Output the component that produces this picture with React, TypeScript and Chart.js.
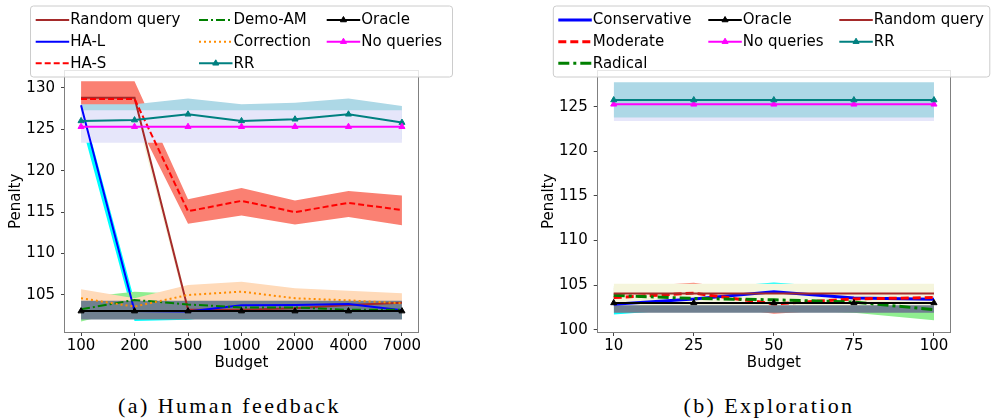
import React, { useEffect, useRef } from 'react';
import { Chart, registerables } from 'chart.js';

Chart.register(...registerables);

const FONT_FAMILY = "'DejaVu Sans', sans-serif";

// ---------------- (a) Human feedback ----------------
const budgetA = ['100', '200', '500', '1000', '2000', '4000', '7000'];

const randomQueryA = [128.8, 128.8, 103.25, 103.2, 103.4, 103.8, 104.05];
const randomQueryAHi = [129.4, 129.4, 103.9, 103.8, 104.0, 104.4, 104.6];
const randomQueryALo = [127.4, 127.4, 102.6, 102.6, 102.8, 103.2, 103.5];

const haLA = [127.9, 103.07, 103.0, 103.75, 103.8, 103.9, 103.15];
const haLAHi = [128.3, 104.3, 104.0, 104.8, 104.9, 105.0, 104.2];
const haLALo = [125.8, 101.85, 102.0, 102.7, 102.7, 102.8, 102.1];

const haSA = [128.65, 128.65, 115.1, 116.35, 115.0, 116.1, 115.25];
const haSAHi = [130.8, 130.8, 116.55, 117.9, 116.4, 117.55, 117.0];
const haSALo = [126.5, 126.5, 113.6, 114.6, 113.5, 114.4, 113.4];

const demoAMA = [103.27, 104.4, 103.85, 103.5, 103.5, 103.2, 103.2];
const demoAMAHi = [104.7, 105.4, 105.1, 104.2, 104.2, 103.9, 103.9];
const demoAMALo = [101.8, 103.4, 102.6, 102.8, 102.8, 102.5, 102.5];

const correctionA = [104.6, 103.6, 105.0, 105.4, 104.6, 104.35, 104.0];
const correctionAHi = [105.7, 104.6, 106.2, 106.6, 105.8, 105.5, 105.2];
const correctionALo = [103.5, 102.6, 103.8, 104.2, 103.4, 103.2, 102.8];

const rrA = [126.0, 126.1, 126.8, 126.0, 126.2, 126.8, 125.8];
const rrAHi = [128.0, 128.0, 128.7, 128.0, 128.2, 128.7, 127.8];
const rrALo = [124.0, 124.2, 124.9, 124.0, 124.2, 124.9, 123.8];

const oracleA = [103.05, 103.05, 103.05, 103.05, 103.05, 103.05, 103.05];
const oracleAHi = [104.3, 104.3, 104.3, 104.3, 104.3, 104.3, 104.3];
const oracleALo = [102.05, 102.05, 102.05, 102.05, 102.05, 102.05, 102.05];

const noQueriesA = [125.3, 125.3, 125.3, 125.3, 125.3, 125.3, 125.3];
const noQueriesAHi = [127.3, 127.3, 127.3, 127.3, 127.3, 127.3, 127.3];
const noQueriesALo = [123.35, 123.35, 123.35, 123.35, 123.35, 123.35, 123.35];

// ---------------- (b) Exploration ----------------
const budgetB = ['10', '25', '50', '75', '100'];

const conservativeB = [102.85, 103.45, 104.25, 103.55, 103.4];
const conservativeBHi = [103.95, 104.55, 105.3, 104.65, 104.5];
const conservativeBLo = [101.7, 102.35, 103.2, 102.45, 102.3];

const moderateB = [103.6, 104.1, 102.9, 103.45, 103.6];
const moderateBHi = [104.7, 105.25, 104.0, 104.55, 104.7];
const moderateBLo = [102.5, 102.95, 101.8, 102.35, 102.5];

const radicalB = [103.85, 103.5, 103.35, 103.1, 102.25];
const radicalBHi = [104.9, 104.6, 104.45, 104.3, 103.45];
const radicalBLo = [102.8, 102.4, 102.25, 101.9, 101.05];

const oracleB = [103.0, 103.0, 103.0, 103.0, 103.0];
const oracleBHi = [104.1, 104.1, 104.1, 104.1, 104.1];
const oracleBLo = [101.9, 101.9, 101.9, 101.9, 101.9];

const noQueriesB = [125.27, 125.27, 125.27, 125.27, 125.27];
const noQueriesBHi = [127.2, 127.2, 127.2, 127.2, 127.2];
const noQueriesBLo = [123.4, 123.4, 123.4, 123.4, 123.4];

const randomQueryB = [104.05, 104.05, 104.05, 104.05, 104.05];
const randomQueryBHi = [105.15, 105.15, 105.15, 105.15, 105.15];
const randomQueryBLo = [102.75, 102.75, 102.75, 102.75, 102.75];

const rrB = [125.75, 125.75, 125.75, 125.75, 125.75];
const rrBHi = [127.75, 127.75, 127.75, 127.75, 127.75];
const rrBLo = [123.8, 123.8, 123.8, 123.8, 123.8];

// ---------------- series definitions ----------------
type Series = {
  label: string;
  y: number[];
  hi: number[];
  lo: number[];
  color: string;
  band: string;
  dash: number[];
  width: number;
  marker: boolean;
};

const seriesA: Series[] = [
  { label: 'Random query', y: randomQueryA, hi: randomQueryAHi, lo: randomQueryALo, color: '#a52a2a', band: '#f5f5dc', dash: [], width: 2, marker: false },
  { label: 'HA-L', y: haLA, hi: haLAHi, lo: haLALo, color: '#0000ff', band: '#00ffff', dash: [], width: 2, marker: false },
  { label: 'HA-S', y: haSA, hi: haSAHi, lo: haSALo, color: '#ff0000', band: '#fa8072', dash: [6, 3], width: 2, marker: false },
  { label: 'Demo-AM', y: demoAMA, hi: demoAMAHi, lo: demoAMALo, color: '#008000', band: '#90ee90', dash: [9, 3, 2, 3], width: 2, marker: false },
  { label: 'Correction', y: correctionA, hi: correctionAHi, lo: correctionALo, color: '#ff8c00', band: '#ffdab9', dash: [2, 3], width: 2, marker: false },
  { label: 'RR', y: rrA, hi: rrAHi, lo: rrALo, color: '#008080', band: '#add8e6', dash: [], width: 2, marker: true },
  { label: 'Oracle', y: oracleA, hi: oracleAHi, lo: oracleALo, color: '#000000', band: '#708090', dash: [], width: 2, marker: true },
  { label: 'No queries', y: noQueriesA, hi: noQueriesAHi, lo: noQueriesALo, color: '#ff00ff', band: '#e6e6fa', dash: [], width: 2, marker: true },
];

const seriesB: Series[] = [
  { label: 'Conservative', y: conservativeB, hi: conservativeBHi, lo: conservativeBLo, color: '#0000ff', band: '#00ffff', dash: [], width: 3, marker: false },
  { label: 'Moderate', y: moderateB, hi: moderateBHi, lo: moderateBLo, color: '#ff0000', band: '#fa8072', dash: [8, 4], width: 3, marker: false },
  { label: 'Radical', y: radicalB, hi: radicalBHi, lo: radicalBLo, color: '#008000', band: '#90ee90', dash: [11, 4, 3, 4], width: 3, marker: false },
  { label: 'Oracle', y: oracleB, hi: oracleBHi, lo: oracleBLo, color: '#000000', band: '#708090', dash: [], width: 2, marker: true },
  { label: 'No queries', y: noQueriesB, hi: noQueriesBHi, lo: noQueriesBLo, color: '#ff00ff', band: '#e6e6fa', dash: [], width: 2, marker: true },
  { label: 'Random query', y: randomQueryB, hi: randomQueryBHi, lo: randomQueryBLo, color: '#a52a2a', band: '#f5f5dc', dash: [], width: 2, marker: false },
  { label: 'RR', y: rrB, hi: rrBHi, lo: rrBLo, color: '#008080', band: '#add8e6', dash: [], width: 2, marker: true },
];

type PlotCfg = {
  categories: string[];
  series: Series[];
  yMin: number;
  yMax: number;
  xMargin: number;
  padRight: number;
  yAxisWidth: number;
  yTitlePad: number;
  legendBox: { x: number; y: number; w: number; h: number };
  legendCols: number[];
  legendRows: number[];
};

const cfgA: PlotCfg = {
  categories: budgetA,
  series: seriesA,
  yMin: 100.53,
  yMax: 132.07,
  xMargin: 0.3,
  padRight: 78,
  yAxisWidth: 65,
  yTitlePad: 7.5,
  legendBox: { x: 30.5, y: 6, w: 422, h: 71 },
  legendCols: [35.7, 199, 326.7],
  legendRows: [20, 41.7, 63.3],
};

const cfgB: PlotCfg = {
  categories: budgetB,
  series: seriesB,
  yMin: 99.74,
  yMax: 129.05,
  xMargin: 0.2,
  padRight: 42,
  yAxisWidth: 101.7,
  yTitlePad: 44,
  legendBox: { x: 57.3, y: 6, w: 436.5, h: 71 },
  legendCols: [62.3, 212.3, 343.3],
  legendRows: [20, 41.7, 63.3],
};

const CANVAS_W = 496;
const CANVAS_H = 380;

function drawTriangle(ctx: CanvasRenderingContext2D, x: number, y: number, r: number, color: string) {
  ctx.beginPath();
  for (let k = 0; k < 3; k++) {
    const a = (k * 2 * Math.PI) / 3;
    const px = x + Math.sin(a) * r;
    const py = y - Math.cos(a) * r;
    if (k === 0) ctx.moveTo(px, py);
    else ctx.lineTo(px, py);
  }
  ctx.closePath();
  ctx.fillStyle = color;
  ctx.fill();
  ctx.strokeStyle = color;
  ctx.lineWidth = 1;
  ctx.setLineDash([]);
  ctx.stroke();
}

function buildConfig(cfg: PlotCfg): any {
  const N = cfg.series.length;
  const datasets: any[] = [];
  cfg.series.forEach((s, i) => {
    const order = N - i;
    datasets.push({
      label: s.label + ' upper',
      data: s.hi.map((v, k) => ({ x: k, y: v })),
      fill: '+1',
      backgroundColor: s.band,
      borderColor: 'rgba(0,0,0,0)',
      borderWidth: 0,
      pointRadius: 0,
      tension: 0,
      order,
    });
    datasets.push({
      label: s.label + ' lower',
      data: s.lo.map((v, k) => ({ x: k, y: v })),
      fill: false,
      borderColor: 'rgba(0,0,0,0)',
      borderWidth: 0,
      pointRadius: 0,
      tension: 0,
      order,
    });
    datasets.push({
      label: s.label,
      data: s.y.map((v, k) => ({ x: k, y: v })),
      fill: false,
      borderColor: s.color,
      borderWidth: s.width,
      borderDash: s.dash,
      pointStyle: 'triangle',
      pointRadius: s.marker ? 3.5 : 0,
      pointBorderWidth: 1,
      pointBackgroundColor: s.color,
      pointBorderColor: s.color,
      tension: 0,
      order,
    });
  });

  const tickFont = { family: FONT_FAMILY, size: 15, lineHeight: 1.2 };

  const framePlugin = {
    id: 'frame',
    afterDatasetsDraw(chart: any) {
      const { ctx, chartArea } = chart;
      const l = Math.round(chartArea.left);
      const t = Math.round(chartArea.top);
      const r = Math.round(chartArea.right);
      const b = Math.round(chartArea.bottom);
      ctx.save();
      ctx.strokeStyle = '#808080';
      ctx.lineWidth = 1;
      ctx.setLineDash([]);
      ctx.strokeRect(l - 0.5, t - 0.5, r - l + 1, b - t + 1);
      ctx.restore();
    },
  };

  const legendPlugin = {
    id: 'mplLegend',
    afterDraw(chart: any) {
      const ctx: CanvasRenderingContext2D = chart.ctx;
      const bx = cfg.legendBox;
      ctx.save();
      const rad = 3;
      ctx.beginPath();
      ctx.moveTo(bx.x + rad, bx.y);
      ctx.lineTo(bx.x + bx.w - rad, bx.y);
      ctx.arcTo(bx.x + bx.w, bx.y, bx.x + bx.w, bx.y + rad, rad);
      ctx.lineTo(bx.x + bx.w, bx.y + bx.h - rad);
      ctx.arcTo(bx.x + bx.w, bx.y + bx.h, bx.x + bx.w - rad, bx.y + bx.h, rad);
      ctx.lineTo(bx.x + rad, bx.y + bx.h);
      ctx.arcTo(bx.x, bx.y + bx.h, bx.x, bx.y + bx.h - rad, rad);
      ctx.lineTo(bx.x, bx.y + rad);
      ctx.arcTo(bx.x, bx.y, bx.x + rad, bx.y, rad);
      ctx.closePath();
      ctx.fillStyle = 'rgba(255,255,255,0.8)';
      ctx.fill();
      ctx.strokeStyle = '#cccccc';
      ctx.lineWidth = 1;
      ctx.stroke();

      const n = cfg.series.length;
      const ncol = 3;
      const rows = Math.floor(n / ncol);
      const large = n % ncol;
      let idx = 0;
      ctx.font = `15px ${FONT_FAMILY}`;
      ctx.textBaseline = 'middle';
      ctx.textAlign = 'left';
      for (let c = 0; c < ncol; c++) {
        const h = c < large ? rows + 1 : rows;
        for (let r = 0; r < h; r++) {
          const s = cfg.series[idx++];
          const hx = cfg.legendCols[c];
          const hy = cfg.legendRows[r];
          ctx.beginPath();
          ctx.strokeStyle = s.color;
          ctx.lineWidth = s.width;
          ctx.setLineDash(s.dash);
          ctx.moveTo(hx, hy);
          ctx.lineTo(hx + 33.5, hy);
          ctx.stroke();
          ctx.setLineDash([]);
          if (s.marker) drawTriangle(ctx, hx + 16.75, hy, 3.5, s.color);
          ctx.fillStyle = '#000';
          ctx.fillText(s.label, hx + 34.5, hy + 0.5);
        }
      }
      ctx.restore();
    },
  };

  return {
    type: 'line',
    data: { datasets },
    plugins: [framePlugin, legendPlugin],
    options: {
      animation: false,
      responsive: false,
      devicePixelRatio: 1,
      events: [],
      layout: { padding: { left: 0, top: 70.6, right: cfg.padRight, bottom: 0 } },
      plugins: {
        legend: { display: false },
        tooltip: { enabled: false },
        title: { display: false },
        filler: { drawTime: 'beforeDatasetsDraw', propagate: false },
      },
      scales: {
        x: {
          type: 'linear',
          min: -cfg.xMargin,
          max: cfg.categories.length - 1 + cfg.xMargin,
          afterFit: (s: any) => {
            s.height = CANVAS_H - 332;
          },
          grid: { display: true, drawOnChartArea: false, drawTicks: true, tickLength: 4, color: '#444' },
          border: { display: false },
          ticks: {
            stepSize: 1,
            includeBounds: false,
            autoSkip: false,
            maxRotation: 0,
            minRotation: 0,
            padding: 1,
            color: '#000',
            font: tickFont,
            callback: (v: any) => {
              const i = Math.round(Number(v));
              return Math.abs(Number(v) - i) < 1e-6 && cfg.categories[i] !== undefined ? cfg.categories[i] : '';
            },
          },
          title: {
            display: true,
            text: 'Budget',
            color: '#000',
            font: tickFont,
            padding: { top: 0, bottom: 8 },
          },
        },
        y: {
          type: 'linear',
          min: cfg.yMin,
          max: cfg.yMax,
          afterFit: (s: any) => {
            s.width = cfg.yAxisWidth;
          },
          grid: { display: true, drawOnChartArea: false, drawTicks: true, tickLength: 4, color: '#444' },
          border: { display: false },
          ticks: {
            stepSize: 5,
            includeBounds: false,
            padding: 6,
            color: '#000',
            font: tickFont,
          },
          title: {
            display: true,
            text: 'Penalty',
            color: '#000',
            font: tickFont,
            padding: { top: cfg.yTitlePad, bottom: 0 },
          },
        },
      },
    },
  };
}

function Plot({ cfg, left }: { cfg: PlotCfg; left: number }) {
  const ref = useRef<HTMLCanvasElement>(null);
  useEffect(() => {
    const chart = new Chart(ref.current as HTMLCanvasElement, buildConfig(cfg));
    return () => chart.destroy();
  }, [cfg]);
  return (
    <canvas
      ref={ref}
      width={CANVAS_W}
      height={CANVAS_H}
      style={{ position: 'absolute', left, top: 0, width: CANVAS_W, height: CANVAS_H }}
    />
  );
}

const captionStyle: React.CSSProperties = {
  position: 'absolute',
  top: 393,
  width: 400,
  textAlign: 'center',
  fontFamily: "'Liberation Serif', serif",
  fontSize: 22,
  letterSpacing: '2.4px',
  lineHeight: '26px',
  color: '#000',
  whiteSpace: 'nowrap',
};

export default function App() {
  return (
    <div style={{ position: 'absolute', left: 0, top: 0, width: 992, height: 419, background: '#fff', overflow: 'hidden' }}>
      <Plot cfg={cfgA} left={0} />
      <Plot cfg={cfgB} left={496} />
      <div style={{ ...captionStyle, left: 229.5 - 200 }}>(a) Human feedback</div>
      <div style={{ ...captionStyle, left: 769 - 200 }}>(b) Exploration</div>
    </div>
  );
}
